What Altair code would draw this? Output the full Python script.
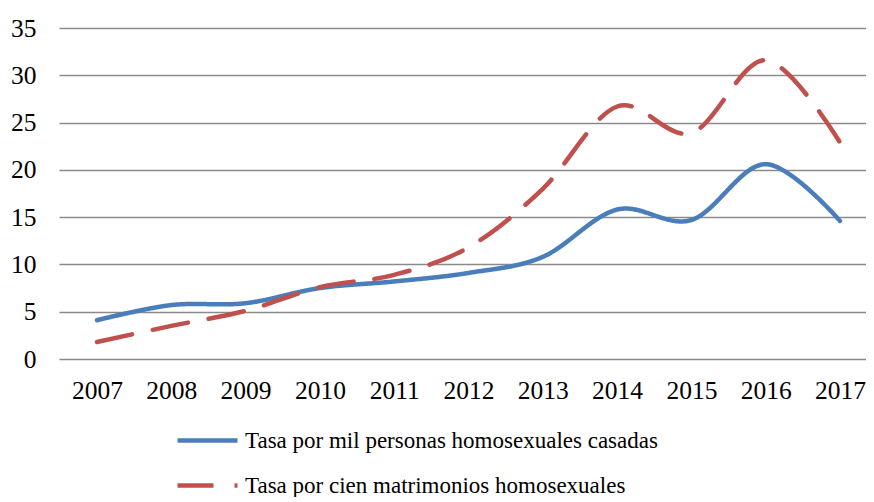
import altair as alt
import pandas as pd

years = [2007, 2008, 2009, 2010, 2011, 2012, 2013, 2014, 2015, 2016, 2017]
tasa_personas = [4.1, 5.7, 5.9, 7.5, 8.2, 9.1, 10.8, 15.8, 14.7, 20.6, 14.6]
tasa_matrimonios = [1.8, 3.5, 5.1, 7.6, 8.9, 11.8, 18.0, 26.7, 23.9, 31.6, 22.9]
serie_1 = "Tasa por mil personas homosexuales casadas"
serie_2 = "Tasa por cien matrimonios homosexuales"
y_ticks = [0, 5, 10, 15, 20, 25, 30, 35]

rows = []
for y, a, b in zip(years, tasa_personas, tasa_matrimonios):
    rows.append({"year": y, "value": a, "serie": serie_1})
    rows.append({"year": y, "value": b, "serie": serie_2})
df = pd.DataFrame(rows)

FONT = "Liberation Serif"

chart = (
    alt.Chart(df)
    .mark_line(interpolate="cardinal", tension=0, strokeWidth=4.5, strokeCap="round")
    .encode(
        x=alt.X(
            "year:Q",
            scale=alt.Scale(domain=[2006.489, 2017.35], nice=False, zero=False),
            axis=alt.Axis(
                values=years, format="d", title=None, grid=False, ticks=False,
                domain=False, labelFont=FONT, labelFontSize=25.5, labelColor="black",
                labelPadding=19, labelFlush=False,
            ),
        ),
        y=alt.Y(
            "value:Q",
            scale=alt.Scale(domain=[0, 35], nice=False),
            axis=alt.Axis(
                values=y_ticks, title=None, ticks=False, domain=False,
                labelFont=FONT, labelFontSize=25.5, labelColor="black",
                labelPadding=23, gridColor="#8a8a8a", gridWidth=1.4,
            ),
        ),
        color=alt.Color(
            "serie:N",
            scale=alt.Scale(domain=[serie_1, serie_2], range=["#4A7EBB", "#C0504D"]),
            legend=alt.Legend(
                title=None, orient="none", legendX=116, legendY=380,
                direction="vertical", symbolType="stroke", symbolSize=3600,
                symbolStrokeWidth=4.5, labelFont=FONT, labelFontSize=23,
                labelColor="black", labelOffset=5, rowPadding=-20, padding=0,
                labelLimit=600,
            ),
        ),
        strokeDash=alt.StrokeDash(
            "serie:N",
            scale=alt.Scale(domain=[serie_1, serie_2], range=[[1, 0], [36, 21]]),
            legend=None,
        ),
    )
    .properties(
        width=807,
        height=331,
        padding={"left": 51, "top": 20, "right": 0, "bottom": 138},
        autosize=alt.AutoSizeParams(type="none"),
    )
    .configure_view(stroke=None)
)

chart.save("out.html", embed_options={"renderer": "svg", "actions": False})
